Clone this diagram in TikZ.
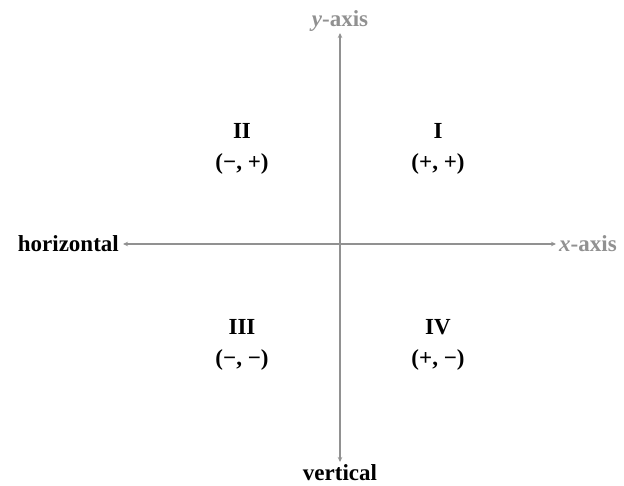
\documentclass[tikz,border=0pt]{standalone}
\usepackage{fontspec}
\setmainfont{Liberation Serif}
\usetikzlibrary{arrows.meta}
\definecolor{axisgray}{RGB}{145,145,145}
\tikzset{
  axis/.style={draw=axisgray, line width=1.3pt, {Stealth[length=5pt,width=4.5pt]}-{Stealth[length=5pt,width=4.5pt]}},
  lbl/.style={font=\fontsize{23}{27}\selectfont\bfseries, inner sep=1pt},
  glbl/.style={lbl, text=axisgray},
  quad/.style={lbl, align=center}
}
\begin{document}
\begin{tikzpicture}[x=1pt,y=-1pt]
\useasboundingbox (0,0) rectangle (624,486);
\coordinate (top) at (340,33);
\coordinate (bot) at (340,462);
\coordinate (lft) at (123,244);
\coordinate (rgt) at (556,244);
\draw[axis] (bot) -- (top);
\draw[axis] (lft) -- (rgt);
\node[glbl, anchor=south] (ylab) at (top) [yshift=0pt] {\textit{y}-axis};
\node[glbl, anchor=west] (xlab) at (rgt) [xshift=2pt] {\textit{x}-axis};
\node[lbl, anchor=east] (hlab) at (lft) [xshift=-3pt] {horizontal};
\node[lbl, anchor=north] (vlab) at (bot) [yshift=-1pt] {vertical};
\node[quad] (q2) at (242,149) {II\\[4pt](−, +)};
\node[quad] (q1) at (438,149) {I\\[4pt](+, +)};
\node[quad] (q3) at (242,345) {III\\[4pt](−, −)};
\node[quad] (q4) at (438,345) {IV\\[4pt](+, −)};
\end{tikzpicture}
\end{document}
